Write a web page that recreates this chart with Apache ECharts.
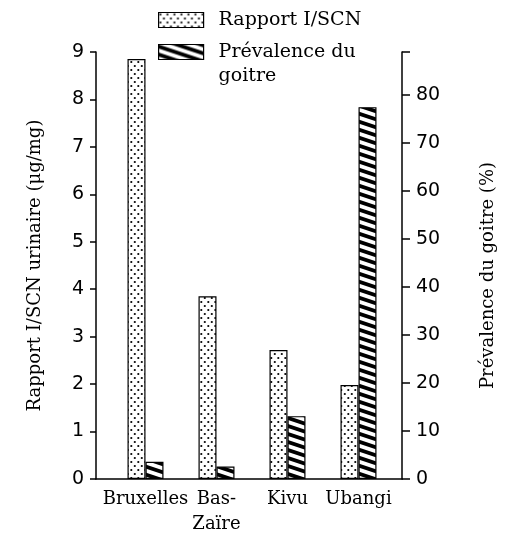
<!DOCTYPE html>
<html><head><meta charset="utf-8">
<script src="https://cdn.jsdelivr.net/npm/echarts@6/dist/echarts.min.js"></script>
<style>html,body{margin:0;padding:0;background:#fff}#c{width:512px;height:539px}</style>
</head><body><div id="c"></div>
<script>
const categories = ['Bruxelles', 'Bas-\nZaïre', 'Kivu', 'Ubangi'];
const ratioValues = [8.85, 3.85, 2.72, 1.98];
const goitreValues = [3.6, 2.6, 13.1, 77.5];
const leftTickLabels = ['0','1','2','3','4','5','6','7','8','9'];
const rightTickLabels = ['0','10','20','30','40','50','60','70','80'];
const seriesNames = ['Rapport I/SCN', 'Prévalence du goitre'];
const legendLabels = ['Rapport I/SCN', '\nPrévalence du\ngoitre'];
const leftAxisName = 'Rapport I/SCN urinaire (μg/mg)';
const rightAxisName = 'Prévalence du goitre (%)';

function dotPattern() {
  const c = document.createElement('canvas');
  c.width = 7; c.height = 8;
  const g = c.getContext('2d');
  g.fillStyle = '#fff'; g.fillRect(0, 0, 7, 8);
  g.fillStyle = '#000';
  g.beginPath(); g.arc(1.8, 2, 1.1, 0, Math.PI * 2); g.fill();
  g.beginPath(); g.arc(5.3, 6, 1.1, 0, Math.PI * 2); g.fill();
  return c;
}
function stripePattern() {
  const c = document.createElement('canvas');
  const W = 24, H = 8;
  c.width = W; c.height = H;
  const g = c.getContext('2d');
  g.fillStyle = '#fff'; g.fillRect(0, 0, W, H);
  g.fillStyle = '#000';
  for (let k = -2; k <= 2; k++) {
    g.beginPath();
    g.moveTo(0, k * H);
    g.lineTo(W, k * H + H);
    g.lineTo(W, k * H + H + 4);
    g.lineTo(0, k * H + 4);
    g.closePath(); g.fill();
  }
  return c;
}

const serif = '"DejaVu Serif", serif';
const sans = '"DejaVu Sans", sans-serif';
const chart = echarts.init(document.getElementById('c'), null, {renderer: 'canvas'});
const axisLineStyle = {color: '#000', width: 1.5};

chart.setOption({
  animation: false,
  backgroundColor: '#fff',
  grid: [
    {left: 96, right: 110, top: 52, bottom: 60, outerBoundsMode: 'none'},
    {left: 110, right: 118, top: 52, bottom: 60, outerBoundsMode: 'none'}
  ],
  xAxis: [
    {gridIndex: 0, type: 'value', min: 0, max: 1, axisLine: {show: true, onZero: false, lineStyle: axisLineStyle},
     axisTick: {show: false}, axisLabel: {show: false}, splitLine: {show: false}},
    {gridIndex: 1, type: 'category', data: categories, axisLine: {show: false}, axisTick: {show: false},
     axisLabel: {color: '#000', fontFamily: serif, fontSize: 18, margin: 8, lineHeight: 25, interval: 0}}
  ],
  yAxis: [
    {gridIndex: 0, type: 'value', position: 'left', min: 0, max: 9, interval: 1,
     axisLine: {show: true, onZero: false, lineStyle: axisLineStyle},
     axisTick: {show: true, length: 6, lineStyle: axisLineStyle},
     axisLabel: {color: '#000', fontFamily: sans, fontSize: 19, margin: 12,
       formatter: v => leftTickLabels[Math.round(v)] ?? ''},
     splitLine: {show: false},
     name: leftAxisName, nameLocation: 'middle', nameGap: 52, nameRotate: 90,
     nameTextStyle: {color: '#000', fontFamily: serif, fontSize: 18}},
    {gridIndex: 0, type: 'value', position: 'right', min: 0, max: 89, interval: 10,
     axisLine: {show: true, onZero: false, lineStyle: axisLineStyle},
     axisTick: {show: true, length: 8, lineStyle: axisLineStyle},
     axisLabel: {color: '#000', fontFamily: sans, fontSize: 19, margin: 14,
       formatter: v => (v % 10 === 0 ? (rightTickLabels[v / 10] ?? '') : '')},
     splitLine: {show: false},
     name: rightAxisName, nameLocation: 'middle', nameGap: 77, nameRotate: 90,
     nameTextStyle: {color: '#000', fontFamily: serif, fontSize: 18, padding: [0, 20, 0, 0]}},
    {gridIndex: 1, type: 'value', min: 0, max: 9, show: false},
    {gridIndex: 1, type: 'value', min: 0, max: 89, show: false}
  ],
  legend: [
    {data: [seriesNames[0]], left: 158, top: 9, padding: 0, icon: 'rect', itemWidth: 45, itemHeight: 15,
     formatter: () => legendLabels[0],
     itemStyle: {borderColor: '#000', borderWidth: 1.2},
     textStyle: {color: '#000', fontFamily: serif, fontSize: 19, lineHeight: 22, padding: [0, 0, 0, 10]}},
    {data: [seriesNames[1]], left: 158, top: 16, padding: 0, icon: 'rect', itemWidth: 45, itemHeight: 15,
     formatter: () => legendLabels[1],
     itemStyle: {borderColor: '#000', borderWidth: 1.2},
     textStyle: {color: '#000', fontFamily: serif, fontSize: 19, lineHeight: 24, padding: [0, 0, 0, 10]}}
  ],
  series: [
    {name: seriesNames[0], type: 'bar', xAxisIndex: 1, yAxisIndex: 2, data: ratioValues,
     barWidth: 18, barGap: '0%',
     itemStyle: {color: {image: dotPattern(), repeat: 'repeat'}, borderColor: '#000', borderWidth: 1.2}},
    {name: seriesNames[1], type: 'bar', xAxisIndex: 1, yAxisIndex: 3, data: goitreValues,
     barWidth: 18, barGap: '0%',
     itemStyle: {color: {image: stripePattern(), repeat: 'repeat'}, borderColor: '#000', borderWidth: 1.2}}
  ]
});
</script></body></html>
